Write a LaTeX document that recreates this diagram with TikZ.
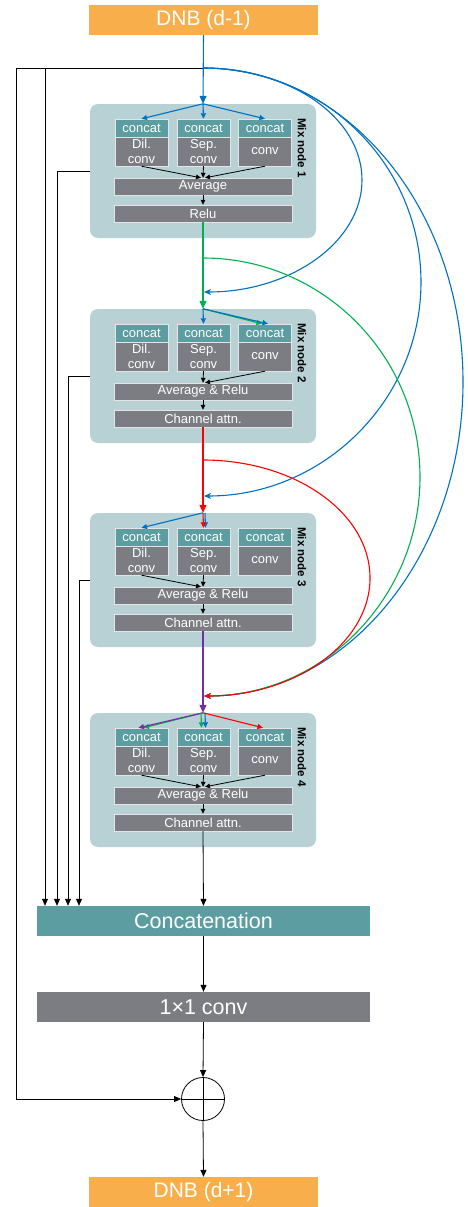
\documentclass[tikz,border=0pt]{standalone}
\usepackage{fontspec}
\setmainfont{Liberation Sans}
\usetikzlibrary{arrows.meta}
\definecolor{cOrange}{RGB}{247,174,75}
\definecolor{cTeal}{RGB}{91,157,160}
\definecolor{cGray}{RGB}{123,125,131}
\definecolor{cMix}{RGB}{183,209,213}
\definecolor{cBlue}{RGB}{0,112,192}
\definecolor{cGreen}{RGB}{0,176,80}
\definecolor{cRed}{RGB}{255,0,0}
\definecolor{cPurple}{RGB}{112,48,160}
\begin{document}
\begin{tikzpicture}[x=1pt,y=-1pt,
  dnb/.style={fill=cOrange,text=white,inner sep=0pt,minimum width=229pt,minimum height=30pt,font=\fontsize{21}{24}\selectfont},
  wide/.style={text=white,inner sep=0pt,minimum width=333pt,minimum height=30pt,font=\fontsize{21.5}{24}\selectfont},
  mixbox/.style={fill=cMix,rounded corners=8pt,minimum width=226pt,minimum height=134pt,inner sep=0pt},
  hdr/.style={fill=cTeal,text=white,draw=white!80!cGray,line width=0.4pt,minimum width=53pt,minimum height=18pt,inner sep=0pt,font=\fontsize{13}{15}\selectfont},
  body/.style={fill=cGray,text=white,draw=white!80!cGray,line width=0.4pt,minimum width=53pt,minimum height=29pt,inner sep=0pt,align=center,font=\fontsize{13}{15}\selectfont},
  bar/.style={fill=cGray,text=white,draw=white!80!cGray,line width=0.4pt,minimum width=178pt,minimum height=17pt,inner sep=0pt,font=\fontsize{13}{15}\selectfont},
  lab/.style={rotate=-90,font=\bfseries\fontsize{11.5}{13}\selectfont},
  arr/.style={line width=0.8pt,-{Triangle[length=7pt,width=6pt]}},
  sarr/.style={line width=0.8pt,-{Triangle[length=5pt,width=4.5pt]}},
  carr/.style={line width=1.1pt,-{Triangle[length=8pt,width=7pt]}},
  curarr/.style={line width=1.1pt,-{Stealth[length=7pt,width=6pt,inset=2pt]}},
  scarr/.style={line width=1.1pt,-{Triangle[length=5.5pt,width=5pt]}}
]
\useasboundingbox (0,0) rectangle (468,1207);

% mix nodes
\foreach \i/\T/\ta/\tb in {1/104/Average/Relu,2/309/Average \& Relu/Channel attn.,3/513/Average \& Relu/Channel attn.,4/713/Average \& Relu/Channel attn.}{
  \node[mixbox] (m\i) at (203,\T+67) {};
  \node[body] (ba\i) at (141.5,\T+47.5) {Dil.\\conv};
  \node[body] (bb\i) at (203.5,\T+47.5) {Sep.\\conv};
  \node[body] (bc\i) at (265,\T+47.5) {conv};
  \node[hdr] (ha\i) at (141.5,\T+24) {concat};
  \node[hdr] (hb\i) at (203.5,\T+24) {concat};
  \node[hdr] (hc\i) at (265,\T+24) {concat};
  \node[bar] (avg\i) at (203,\T+82.5) {\ta};
  \node[bar] (out\i) at (203,\T+109.5) {\tb};
  \node[lab] (lab\i) at (302,\T+44) {Mix node \i};
  \draw[sarr] (avg\i.south) -- (out\i.north);
}

% input / output blocks
\node[dnb] (din) at (203.5,20) {DNB (d-1)};
\node[wide,fill=cTeal] (cat) at (203.5,921) {Concatenation};
\node[wide,fill=cGray] (conv) at (203.5,1007) {1\texttimes1 conv};
\node[circle,draw,line width=0.8pt,minimum size=43pt,inner sep=0pt] (plus) at (203,1099) {};
\draw[line width=0.8pt] (plus.north) -- (plus.south) (plus.west) -- (plus.east);
\node[dnb] (dout) at (203.5,1192) {DNB (d+1)};

\coordinate (J) at (203,68);
\coordinate (L0) at (16,68);
\coordinate (S0) at (45,68);
\coordinate (c1) at (57,0);
\coordinate (c2) at (68,0);
\coordinate (c3) at (79,0);
\coordinate (g0) at (203,258);
\coordinate (r0) at (203,460);
\coordinate (e1) at (204,292);
\coordinate (e2) at (204,496);
\coordinate (e3) at (204,696);

% black skip lines
\draw[arr] (J) -- (L0) |- (plus.west);
\draw[arr] (S0) -- (S0|-cat.north);
\draw[arr] (m1.west) -| (c1|-cat.north);
\draw[arr] (m2.west) -| (c2|-cat.north);
\draw[arr] (m3.west) -| (c3|-cat.north);
\draw[arr] (out4.south) -- (cat.north);
\draw[arr] (cat.south) -- (conv.north);
\draw[arr] (conv.south) -- (plus.north);
\draw[arr] (plus.south) -- (dout.north);

% inner black arrows
\draw[sarr] (ba1.south) -- ([xshift=-2pt]avg1.north);
\draw[sarr] (bb1.south) -- (avg1.north);
\draw[sarr] (bc1.south) -- ([xshift=2pt]avg1.north);
\draw[sarr] (bb2.south) -- (avg2.north);
\draw[sarr] (bc2.south) -- ([xshift=2pt]avg2.north);
\draw[sarr] (ba3.south) -- ([xshift=-2pt]avg3.north);
\draw[sarr] (bb3.south) -- (avg3.north);
\draw[sarr] (ba4.south) -- ([xshift=-2pt]avg4.north);
\draw[sarr] (bb4.south) -- (avg4.north);
\draw[sarr] (bc4.south) -- ([xshift=2pt]avg4.north);

% curves
\draw[curarr,cBlue] (J) .. controls (290.8,68) and (362,118.1) .. (362,180) .. controls (362,241.9) and (290.8,292) .. (e1);
\draw[curarr,cBlue] (J) .. controls (323.4,68) and (421,163.8) .. (421,282) .. controls (421,400.2) and (323.4,496) .. (e2);
\draw[curarr,cBlue] (J) .. controls (346.6,68) and (463,208.6) .. (463,382) .. controls (463,555.4) and (346.6,696) .. (e3);
\draw[curarr,cGreen] (g0) .. controls (322.8,258) and (420,356) .. (420,477) .. controls (420,598) and (322.8,696) .. (e3);
\draw[curarr,cRed] (r0) .. controls (295.2,460) and (370,512.8) .. (370,578) .. controls (370,643.2) and (295.2,696) .. (e3);

% main colored flow
\draw[carr,cBlue] (din.south) -- (m1.north);
\draw[scarr,cBlue] (m1.north) -- (ha1.north);
\draw[scarr,cBlue] (m1.north) -- (hb1.north);
\draw[scarr,cBlue] (m1.north) -- (hc1.north);

\draw[carr,cGreen] (out1.south) -- (m2.north);
\draw[scarr,cGreen] (m2.north) -- ([xshift=-3pt]hc2.north);
\draw[scarr,cBlue] (m2.north) -- ([xshift=3pt]hc2.north);
\draw[scarr,cBlue] (m2.north) -- (hb2.north);

\draw[carr,cRed] (out2.south) -- (m3.north);
\draw[scarr,cBlue] ([xshift=2pt]m3.north) -- ([xshift=2pt]hb3.north);
\draw[scarr,cRed] (m3.north) -- (hb3.north);
\draw[scarr,cBlue] (m3.north) -- (ha3.north);

\draw[carr,cPurple] (out3.south) -- (m4.north);
\draw[scarr,cGreen] (m4.north) -- ([xshift=2pt]ha4.north);
\draw[scarr,cPurple] (m4.north) -- ([xshift=-3pt]ha4.north);
\draw[scarr,cGreen] ([xshift=-2pt]m4.north) -- ([xshift=-2pt]hb4.north);
\draw[scarr,cBlue] ([xshift=2pt]m4.north) -- ([xshift=2pt]hb4.north);
\draw[scarr,cRed] (m4.north) -- ([xshift=-2pt]hc4.north);
\end{tikzpicture}
\end{document}
